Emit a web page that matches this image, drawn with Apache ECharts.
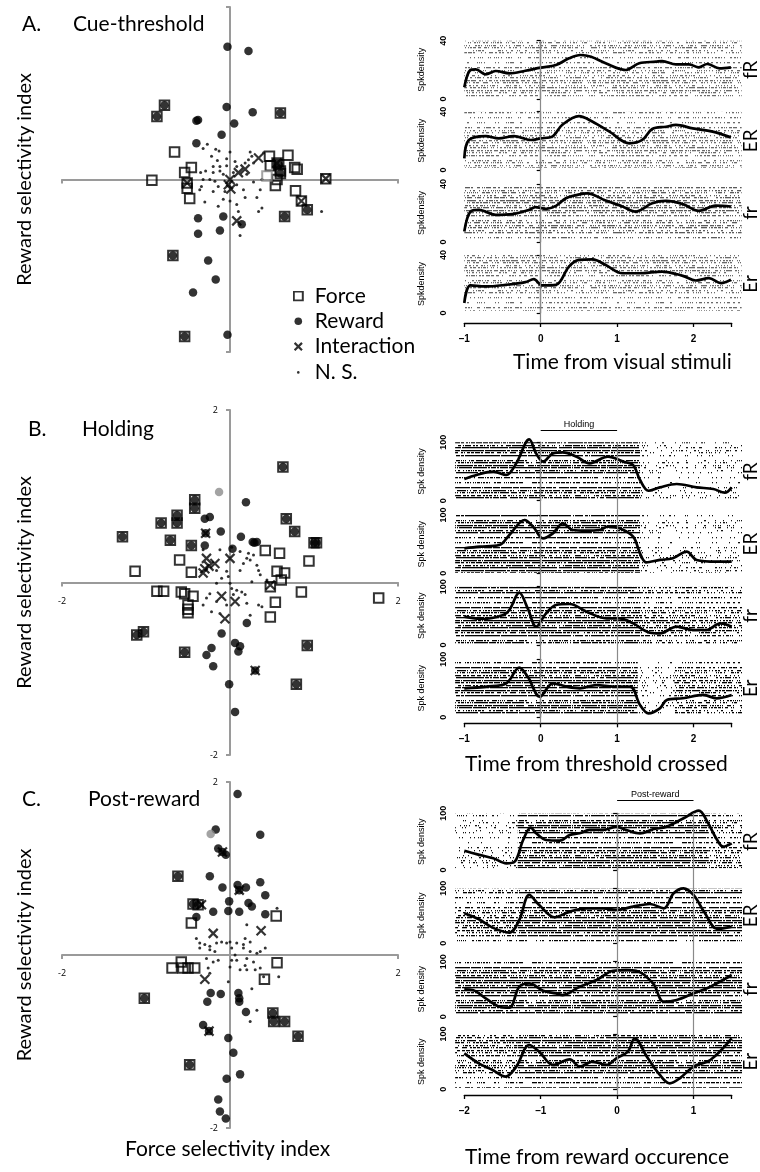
<!DOCTYPE html>
<html><head><meta charset="utf-8">
<script src="https://cdn.jsdelivr.net/npm/echarts@6/dist/echarts.min.js"></script>
<style>html,body{margin:0;padding:0;background:#fff}#c{width:760px;height:1172px}</style>
</head><body><div id="c"></div>
<script>
// ---------------- DATA ----------------
const condLabels = ['fR', 'ER', 'fr', 'Er'];
const legendNames = ['Force', 'Reward', 'Interaction', 'N. S.'];

// Panel A scatter (Cue-threshold)
const forceOnlyA = [[-0.93,-0.01],[-0.66,0.32],[-0.46,0.14],[-0.54,0.08],[-0.51,-0.04],[-0.51,-0.10],[-0.48,-0.22],[0.47,0.27],[0.69,0.28],[0.56,0.19],[0.48,0.16],[0.77,0.14],[0.80,0.12],[0.60,0.10],[0.56,0.00],[0.54,-0.07],[1.14,0.01],[0.78,-0.13],[0.85,-0.25]];
const bothA = [[-0.78,0.86],[-0.87,0.73],[0.60,0.77],[0.65,-0.43],[-0.68,-0.88],[-0.54,-1.82],[0.92,-0.35],[0.58,0.17],[0.60,0.07]];
const rewardOnlyA = [[-0.03,1.54],[0.22,1.49],[-0.04,0.84],[0.27,0.78],[-0.40,0.68],[-0.38,0.69],[0.05,0.65],[-0.10,0.52],[-0.40,0.42],[-0.38,-0.45],[-0.08,-0.43],[-0.38,-0.63],[-0.12,-0.59],[0.14,-0.52],[-0.26,-0.94],[-0.17,-1.16],[-0.44,-1.31],[-0.03,-1.80]];
const interactionA = [[0.34,0.25],[0.18,0.12],[0.10,0.08],[0.00,0.00],[-0.02,-0.06],[0.01,-0.11],[0.08,-0.48],[-0.51,-0.04],[0.56,0.19],[1.14,0.01],[0.85,-0.25]];
const greyForceA = [[0.44,0.04]];
const nsA = [[-0.27,0.41],[-0.32,0.36],[-0.17,0.35],[-0.13,0.33],[0.00,0.32],[-0.22,0.27],[-0.15,0.22],[-0.04,0.24],[0.06,0.21],[0.24,0.32],[0.22,0.23],[0.28,0.19],[-0.20,0.15],[-0.12,0.15],[-0.04,0.16],[0.08,0.15],[0.18,0.19],[-0.29,0.10],[-0.20,0.08],[-0.12,0.10],[-0.08,0.06],[0.04,0.08],[0.20,0.06],[-0.24,0.00],[-0.18,-0.02],[-0.32,0.00],[-0.34,-0.08],[-0.14,-0.08],[0.08,-0.06],[0.28,-0.03],[0.38,0.00],[-0.36,-0.12],[-0.20,-0.14],[-0.06,-0.14],[0.16,-0.12],[0.36,-0.12],[-0.30,-0.26],[-0.08,-0.23],[0.00,-0.25],[0.18,-0.21],[0.32,-0.21],[-0.14,-0.31],[0.08,-0.29],[0.10,-0.37],[0.38,-0.33],[0.34,-0.37],[0.12,-0.65],[1.09,-0.37],[-0.35,0.08],[0.40,0.31],[0.26,0.27]];

// Panel B scatter (Holding)
const forceOnlyB = [[-1.13,0.13],[-0.60,0.26],[-0.46,0.12],[-0.87,-0.10],[-0.79,-0.10],[-0.58,-0.11],[-0.54,-0.13],[-0.44,-0.16],[-0.50,-0.26],[-0.50,-0.31],[-0.50,-0.35],[0.42,0.37],[0.59,0.34],[0.94,0.25],[0.56,0.13],[0.65,0.11],[0.61,0.03],[0.48,-0.05],[0.85,-0.11],[0.54,-0.23],[0.48,-0.40],[1.77,-0.18]];
const bothB = [[0.63,1.34],[-0.42,0.96],[-0.42,0.86],[-0.63,0.78],[-0.63,0.69],[-0.82,0.69],[-1.28,0.53],[-0.71,0.49],[-0.46,0.43],[0.67,0.74],[0.77,0.59],[1.00,0.46],[1.03,0.46],[-1.11,-0.61],[-1.03,-0.57],[-0.54,-0.81],[0.92,-0.73],[0.79,-1.18]];
const rewardOnlyB = [[0.19,0.93],[-0.30,0.74],[-0.24,0.76],[-0.11,0.59],[0.13,0.53],[-0.30,0.43],[0.27,0.47],[0.32,0.47],[0.29,0.46],[0.03,0.39],[0.20,-0.47],[-0.10,-0.59],[0.06,-0.70],[0.12,-0.74],[0.10,-0.80],[-0.22,-0.76],[-0.28,-0.84],[-0.20,-0.97],[-0.01,-1.18],[0.06,-1.50],[-0.29,0.57],[0.30,-1.02]];
const greyRewardB = [[-0.13,1.05]];
const interactionB = [[-0.28,0.28],[-0.18,0.22],[-0.25,0.19],[-0.30,0.16],[-0.32,0.11],[0.00,0.28],[-0.10,-0.16],[0.06,-0.22],[-0.06,-0.42],[0.48,-0.03],[-0.29,0.57],[0.30,-1.02]];
const nsB = [[-0.12,0.38],[0.02,0.41],[-0.16,0.14],[-0.04,0.13],[-0.10,0.05],[-0.02,0.07],[0.12,0.14],[0.16,0.22],[0.20,0.28],[0.24,0.26],[0.32,0.20],[0.34,0.14],[0.36,0.09],[0.26,0.01],[0.44,0.03],[0.02,-0.07],[0.08,-0.09],[0.14,-0.11],[0.18,-0.14],[-0.24,-0.13],[-0.28,-0.18],[-0.32,-0.26],[-0.16,-0.22],[-0.04,-0.26],[0.20,-0.24],[0.34,-0.26],[0.38,-0.28],[-0.22,-0.34],[-0.12,-0.36],[0.24,-0.38],[0.04,-0.14],[0.12,0.36],[0.22,0.34],[-0.32,0.38],[0.00,-0.01],[-0.16,-0.01],[0.28,0.32]];

// Panel C scatter (Post-reward)
const forceOnlyC = [[0.55,0.45],[-0.46,0.37],[0.56,-0.09],[-0.58,-0.08],[-0.69,-0.15],[-0.56,-0.15],[-0.50,-0.15],[-0.42,-0.15],[0.41,-0.28]];
const bothC = [[-0.62,0.91],[-0.44,0.59],[-0.38,0.58],[-1.02,-0.50],[0.51,-0.67],[0.52,-0.77],[0.65,-0.77],[0.81,-0.94],[-0.48,-1.27]];
const rewardOnlyC = [[0.09,1.86],[-0.17,1.45],[0.36,1.39],[-0.14,1.23],[-0.09,1.19],[-0.05,1.16],[-0.24,0.91],[-0.09,0.78],[0.09,0.81],[0.11,0.75],[0.19,0.78],[0.36,0.84],[0.42,0.69],[-0.01,0.62],[0.22,0.60],[0.26,0.56],[-0.20,0.50],[-0.02,0.51],[0.11,0.50],[0.42,0.47],[-0.40,0.44],[-0.23,-0.44],[-0.11,-0.45],[-0.27,-0.54],[0.10,-0.44],[0.11,-0.50],[0.11,-0.54],[0.19,-0.66],[-0.32,-0.81],[-0.25,-0.88],[-0.02,-0.96],[0.04,-1.13],[0.12,-1.38],[-0.04,-1.43],[-0.14,-1.67],[-0.12,-1.81],[-0.05,-1.89]];
const greyRewardC = [[-0.23,1.40]];
const interactionC = [[-0.20,0.25],[0.37,0.28],[-0.30,-0.28],[-0.25,-0.88],[0.11,0.75],[-0.09,1.19],[-0.34,0.58]];
const nsC = [[0.20,0.35],[-0.40,0.19],[-0.36,0.14],[-0.30,0.12],[-0.24,0.10],[-0.16,0.14],[-0.10,0.15],[-0.04,0.14],[0.00,0.15],[0.08,0.14],[0.16,0.12],[0.24,0.15],[0.18,0.19],[-0.36,0.08],[-0.24,0.06],[-0.18,0.04],[0.02,0.08],[0.16,0.08],[0.24,0.04],[0.32,0.02],[0.36,0.04],[0.42,0.08],[0.56,0.54],[-0.28,-0.04],[-0.20,-0.08],[-0.14,-0.06],[0.02,-0.06],[0.08,-0.06],[0.20,-0.04],[0.28,-0.08],[-0.26,-0.15],[0.00,-0.14],[0.12,-0.17],[0.20,-0.17],[0.30,-0.17],[0.36,-0.15],[0.18,-0.12],[0.40,-0.25],[0.58,-0.25],[-0.02,-0.31],[0.26,-0.39],[0.06,0.00],[-0.24,-0.21],[0.32,-0.64],[0.24,-0.77]];

// Spike density curves [time (s), spikes/s]
const spkA_fR = [[-1,8],[-0.92,19.9],[-0.85,20.3],[-0.72,16.9],[-0.59,19.2],[-0.41,17.6],[-0.2,19.4],[0,21.5],[0.2,23.3],[0.37,27.9],[0.52,30.2],[0.66,29],[0.85,24.5],[1.11,19.9],[1.29,24.5],[1.51,25.6],[1.59,26],[1.77,23.8],[1.94,23.8],[2.07,21.7],[2.18,24],[2.34,21],[2.49,21.7]];
const spkA_ER = [[-1,8],[-0.94,20.6],[-0.72,23.3],[-0.55,21.7],[-0.35,23.3],[-0.13,20.6],[0,21.7],[0.15,22.9],[0.28,30.9],[0.5,37],[0.68,33.1],[0.9,26.3],[1.16,18.3],[1.33,20.6],[1.46,28.1],[1.64,29.7],[1.77,30.9],[1.99,28.6],[2.25,26.3],[2.49,22.4]];
const spkA_fr = [[-1,7.3],[-0.92,21],[-0.81,22.2],[-0.59,18.7],[-0.37,19.2],[-0.15,22.2],[-0.07,24],[0.07,22.9],[0.2,24.9],[0.33,30.2],[0.48,32.5],[0.61,33.6],[0.85,28.6],[1.07,24.5],[1.24,21],[1.46,26.7],[1.64,28.3],[1.86,26.1],[2.07,21.5],[2.29,25.1],[2.49,24.5]];
const spkA_Er = [[-1,6.9],[-0.92,19],[-0.72,18.3],[-0.46,19.4],[-0.2,21.3],[-0.09,23.3],[0.02,19],[0.2,19.4],[0.37,32],[0.5,36.6],[0.68,37],[0.85,33.1],[1.07,27.4],[1.29,27.4],[1.59,28.6],[1.86,25.6],[2.03,22.4],[2.2,24],[2.36,20.6],[2.49,22.9]];

const spkB_fR = [[-1,37],[-0.84,44],[-0.62,49.7],[-0.45,44],[-0.32,64],[-0.15,105],[-0.06,81],[0.03,66.9],[0.16,81],[0.29,82.9],[0.47,75.4],[0.64,64],[0.88,75.4],[1.08,66.9],[1.21,61],[1.3,35.4],[1.41,17],[1.56,22.9],[1.78,28.6],[2.04,22.9],[2.26,20],[2.41,13.7],[2.5,22.9]];
const spkB_ER = [[-1,42.9],[-0.8,45.7],[-0.54,48.6],[-0.41,65.7],[-0.21,91.4],[-0.1,80],[0.03,60],[0.16,68.6],[0.29,85.7],[0.42,74.3],[0.59,73.1],[0.77,74.3],[0.88,80],[1.03,77.1],[1.21,62.9],[1.3,34.3],[1.38,18.9],[1.56,22.9],[1.73,25.7],[1.91,37.1],[2.04,22.9],[2.3,20],[2.5,20]];
const spkB_fr = [[-1,48.6],[-0.76,44.6],[-0.49,51.4],[-0.41,60],[-0.28,89.7],[-0.17,62.9],[-0.06,31.4],[0.07,54.3],[0.2,68.6],[0.38,70.3],[0.6,57.1],[0.86,45.7],[1.03,45.7],[1.21,37.1],[1.43,21.1],[1.56,20],[1.78,31.4],[2.0,25.7],[2.17,25.7],[2.35,37.1],[2.5,31.4]];
const spkB_Er = [[-1,50],[-0.71,52.9],[-0.45,58.6],[-0.28,85.6],[-0.17,70.1],[-0.01,35.6],[0.16,58.6],[0.34,52.9],[0.51,50],[0.73,55.7],[0.95,52.9],[1.17,52.9],[1.3,21.3],[1.41,6.9],[1.56,15.5],[1.65,29.9],[1.86,32.8],[2.13,38.5],[2.3,32.8],[2.5,38.5]];

const spkC_fR = [[-2,34],[-1.84,28],[-1.62,20.6],[-1.45,11.8],[-1.34,14.7],[-1.23,52.9],[-1.13,74.7],[-1.06,64.7],[-0.93,52.9],[-0.75,51.8],[-0.62,61.8],[-0.49,64.7],[-0.36,70.6],[-0.18,70.6],[-0.01,76.5],[0.12,70.6],[0.3,64.7],[0.47,71.8],[0.65,76.5],[0.87,91.2],[1.07,104.7],[1.18,85.3],[1.31,52.9],[1.39,41.2],[1.5,47]];
const spkC_ER = [[-2,54.5],[-1.81,43.6],[-1.63,28.5],[-1.41,19.4],[-1.28,42.4],[-1.15,87.9],[-1.02,69.7],[-0.82,47.3],[-0.62,57.6],[-0.4,63.6],[-0.18,63.6],[-0.01,60.6],[0.21,66.7],[0.43,71.5],[0.61,63.6],[0.74,90.9],[0.87,100],[1.0,87.9],[1.15,54.5],[1.31,26.1],[1.5,30.3]];
const spkC_fr = [[-2,49.7],[-1.89,48.5],[-1.72,33.3],[-1.54,18.2],[-1.41,16.4],[-1.28,54.5],[-1.15,60.6],[-0.97,47.3],[-0.8,42.4],[-0.71,39.4],[-0.49,54.5],[-0.27,66.7],[-0.05,83.6],[0.12,84.8],[0.25,83.6],[0.47,60.6],[0.61,27.3],[0.78,30.3],[1.0,42.4],[1.22,54.5],[1.5,75.8]];
const spkC_Er = [[-2,65],[-1.81,47],[-1.63,34.9],[-1.46,22.9],[-1.32,41],[-1.15,80.1],[-1.02,68.1],[-0.84,44],[-0.62,54.2],[-0.49,41],[-0.32,50],[-0.14,44],[-0.01,56],[0.14,68.1],[0.23,92.2],[0.39,59],[0.56,25.9],[0.69,10.8],[0.82,19.9],[1.0,41],[1.22,53],[1.5,92.2]];

// Raster texture bands [tStart, tEnd, density]
const rasterBandsA = [[[-1,2.63,'light']],[[-1,2.63,'light']],[[-1,2.63,'lightMid']],[[-1,2.63,'light']]];
const rasterBandsB = [[[-1.12,1.3,'dense'],[1.3,2.64,'sparse']],[[-1.12,1.3,'dense'],[1.3,2.64,'sparse']],[[-1.12,1.3,'dense'],[1.3,2.64,'mid']],[[-1.12,1.27,'dense'],[1.27,1.75,'sparse'],[1.75,2.64,'mid']]];
const rasterBandsC = [[[-2.12,-1.3,'sparse'],[-1.3,1.2,'dense'],[1.2,1.64,'mid']],[[-2.12,-1.3,'mid'],[-1.3,1.64,'dense']],[[-2.12,1.64,'dense']],[[-2.12,-1.3,'mid'],[-1.3,1.64,'dense']]];

const epochB = {text: 'Holding', from: 0, to: 1};
const epochC = {text: 'Post-reward', from: 0, to: 1};
const eventLinesA = [0];
const eventLinesB = [0, 1];
const eventLinesC = [0, 1];

// ---------------- BUILD ----------------
const FONT = 'Lato';
const grid = [], xAxis = [], yAxis = [], series = [], title = [];

function hash(a, b) {
  let h = Math.imul(a, 73856093) ^ Math.imul(b, 19349663);
  h = Math.imul(h ^ (h >>> 13), 1274126177);
  h ^= h >>> 16;
  return (h >>> 0) / 4294967296;
}
// raster-like texture: rows of short tick marks
function makePattern(density, color) {
  const W = 150, H = 60;
  const c = document.createElement('canvas'); c.width = W; c.height = H;
  const g = c.getContext('2d'); g.fillStyle = color;
  for (let y = 0, r = 0; y < H; y += (r % 2 ? 3 : 2), r++) {
    if (hash(r + 11, 3) < 0.07) continue;
    const rowD = Math.min(0.92, density * (0.7 + 0.6 * hash(r + 5, 7)));
    for (let x = 0; x < W; x++) {
      if (hash(x + 1000 * r, y + 17) < rowD) g.fillRect(x, y, 1, 1.3);
    }
  }
  return {image: c, repeat: 'repeat'};
}
const PAT = {
  light: makePattern(0.38, '#6a6a6a'),
  lightMid: makePattern(0.48, '#5a5a5a'),
  sparse: makePattern(0.15, '#111'),
  mid: makePattern(0.45, '#000'),
  dense: makePattern(0.72, '#000')
};

function addTitle(text, left, cy, size) {
  title.push({text, left, top: cy - size / 2 - 1, padding: 0,
    textStyle: {fontFamily: FONT, fontSize: size, fontWeight: 'normal', color: '#000', lineHeight: size}});
}

const XPATH = 'path://M0,0L10,10M10,0L0,10';

function scatterPanel(cfg) {
  const gi = grid.length;
  grid.push({left: 62, width: 336, top: cfg.top, height: cfg.height, containLabel: false, outerBoundsMode: 'none'});
  const xi = xAxis.length, yi = yAxis.length;
  const axisStyle = {color: '#9a9a9a', width: 2};
  const fmt = v => (v === 0 ? '' : String(v));
  xAxis.push({type: 'value', gridIndex: gi, min: -2, max: 2, interval: 2, position: 'bottom', offset: -cfg.height / 2,
    axisLine: {onZero: false, lineStyle: axisStyle}, axisTick: {show: true, length: 4, lineStyle: axisStyle},
    axisLabel: {show: cfg.labels, formatter: fmt, fontSize: 9, color: '#000', margin: 14, fontFamily: 'Open Sans'},
    splitLine: {show: false}});
  yAxis.push({type: 'value', gridIndex: gi, min: -2, max: 2, interval: 2, position: 'left', offset: -168,
    axisLine: {onZero: false, lineStyle: axisStyle}, axisTick: {show: true, length: 4, lineStyle: axisStyle},
    axisLabel: {show: cfg.labels, formatter: fmt, fontSize: 9, color: '#000', margin: 12, fontFamily: 'Open Sans'},
    splitLine: {show: false},
    name: 'Reward selectivity index', nameLocation: 'middle', nameGap: 195, nameRotate: 90, nameMoveOverlap: false,
    nameTextStyle: {fontSize: 20, color: '#000', fontFamily: FONT}});
  const base = {type: 'scatter', xAxisIndex: xi, yAxisIndex: yi, silent: true};
  series.push(Object.assign({}, base, {name: 'N. S.', data: cfg.ns, symbol: 'circle', symbolSize: 3, itemStyle: {color: '#000'}, z: 2}));
  series.push(Object.assign({}, base, {name: 'Reward', data: cfg.rewardOnly.concat(cfg.both), symbol: 'circle', symbolSize: 8.5, itemStyle: {color: '#000'}, z: 3}));
  if (cfg.greyReward) series.push(Object.assign({}, base, {name: 'grey reward', data: cfg.greyReward, symbol: 'circle', symbolSize: 8.5, itemStyle: {color: '#8c8c8c'}, z: 3}));
  series.push(Object.assign({}, base, {name: 'Force', data: cfg.forceOnly.concat(cfg.both), symbol: 'rect', symbolSize: 9.5, itemStyle: {color: 'rgba(0,0,0,0)', borderColor: '#000', borderWidth: 2}, z: 4}));
  if (cfg.greyForce) series.push(Object.assign({}, base, {name: 'grey force', data: cfg.greyForce, symbol: 'rect', symbolSize: 9.5, itemStyle: {color: 'rgba(0,0,0,0)', borderColor: '#8c8c8c', borderWidth: 2}, z: 4}));
  series.push(Object.assign({}, base, {name: 'Interaction', data: cfg.inter, symbol: XPATH, symbolSize: 9, itemStyle: {color: 'rgba(0,0,0,0)', borderColor: '#000', borderWidth: 2.2}, z: 5}));
}

function rasterPanel(cfg) {
  const PX = 76.4;
  const axLeft = 464.3, axRight = axLeft + (cfg.xMax - cfg.xMin) * PX;
  const subLeft = 453.3, subRight = 742;
  const sMin = cfg.xMin - (axLeft - subLeft) / PX, sMax = cfg.xMax + (subRight - axRight) / PX;
  cfg.subs.forEach(([t, b], i) => {
    const gi = grid.length;
    grid.push({left: subLeft, width: subRight - subLeft, top: t, height: b - t, containLabel: false, outerBoundsMode: 'none'});
    const xi = xAxis.length;
    xAxis.push({type: 'value', gridIndex: gi, min: sMin, max: sMax, show: false});
    const yi = yAxis.length;
    yAxis.push({type: 'value', gridIndex: gi, min: 0, max: cfg.yMax, interval: cfg.yMax, position: 'left',
      axisLine: {show: true, lineStyle: {color: '#000', width: 1.2}},
      axisTick: {show: true, length: 4, lineStyle: {color: '#000', width: 1.2}},
      axisLabel: {rotate: 90, fontSize: 9, fontWeight: 'bold', color: '#000', margin: 5, fontFamily: 'Liberation Sans'},
      splitLine: {show: false},
      name: cfg.yName, nameLocation: 'middle', nameGap: 27, nameRotate: 90, nameMoveOverlap: false,
      nameTextStyle: {fontSize: 9, color: '#000', fontFamily: 'Liberation Sans'}});
    yAxis.push({type: 'value', gridIndex: gi, min: 0, max: cfg.yMax, position: 'right',
      axisLine: {show: false}, axisTick: {show: false}, axisLabel: {show: false}, splitLine: {show: false},
      name: condLabels[i], nameLocation: 'middle', nameRotate: 90, nameGap: -1, nameMoveOverlap: false,
      nameTextStyle: {fontSize: 19, color: '#000', fontFamily: FONT}});
    series.push({type: 'line', xAxisIndex: xi, yAxisIndex: yi, data: [], silent: true, z: 1,
      markArea: {silent: true, label: {show: false},
        data: cfg.bands[i].map(([x0, x1, k]) => [
          {coord: [x0, cfg.rasterY[0]], itemStyle: {color: PAT[k], opacity: 1, borderWidth: 0}},
          {coord: [x1, cfg.rasterY[1]]}])}});
    series.push({type: 'line', xAxisIndex: xi, yAxisIndex: yi, data: cfg.curves[i], smooth: 0.35,
      showSymbol: false, symbol: 'none', clip: false, silent: true,
      lineStyle: {color: '#000', width: 2.7}, z: 4});
  });
  // time axis + event lines
  const gi = grid.length;
  grid.push({left: axLeft, width: axRight - axLeft, top: cfg.subs[0][0], bottom: 1172 - cfg.axisY, containLabel: false, outerBoundsMode: 'none'});
  const xi = xAxis.length, yi = yAxis.length;
  xAxis.push({type: 'value', gridIndex: gi, min: cfg.xMin, max: cfg.xMax, interval: 1, position: 'bottom',
    axisLine: {show: true, onZero: false, lineStyle: {color: '#000', width: 1.3}},
    axisTick: {show: true, length: 4, lineStyle: {color: '#000', width: 1.3}},
    axisLabel: {fontSize: 10, fontWeight: 'bold', color: '#000', margin: 11, fontFamily: 'Liberation Sans',
      formatter: v => (Math.abs(v - Math.round(v)) < 1e-6 ? String(Math.round(v)).replace('-', '\u2013') : '')},
    splitLine: {show: false}});
  yAxis.push({type: 'value', gridIndex: gi, min: 0, max: 1, show: false});
  series.push({type: 'line', xAxisIndex: xi, yAxisIndex: yi, data: [], silent: true, z: 2,
    markLine: {silent: true, symbol: ['none', 'none'], label: {show: false},
      lineStyle: {color: '#8a8a8a', width: 1.2, type: 'solid'},
      data: cfg.vlines.map(v => ({xAxis: v}))}});
  if (cfg.epoch) {
    const g2 = grid.length;
    grid.push({left: axLeft, width: axRight - axLeft, top: cfg.epochY - 1, height: 1, containLabel: false, outerBoundsMode: 'none'});
    const x2 = xAxis.length, y2 = yAxis.length;
    xAxis.push({type: 'value', gridIndex: g2, min: cfg.xMin, max: cfg.xMax, show: false});
    yAxis.push({type: 'value', gridIndex: g2, min: 0, max: 1, show: false});
    series.push({type: 'line', xAxisIndex: x2, yAxisIndex: y2, data: [], silent: true, z: 2,
      markLine: {silent: true, symbol: ['none', 'none'],
        lineStyle: {color: '#000', width: 1, type: 'solid'},
        label: {show: true, position: 'middle', formatter: cfg.epoch.text, fontSize: 9, color: '#000', distance: 2, fontFamily: 'Liberation Sans'},
        data: [[{coord: [cfg.epoch.from, 0]}, {coord: [cfg.epoch.to, 0]}]]}});
  }
}

// Scatter panels
scatterPanel({top: 7, height: 345, labels: false, ns: nsA, rewardOnly: rewardOnlyA, both: bothA, forceOnly: forceOnlyA, greyForce: greyForceA, inter: interactionA});
scatterPanel({top: 410, height: 345, labels: true, ns: nsB, rewardOnly: rewardOnlyB, both: bothB, forceOnly: forceOnlyB, greyReward: greyRewardB, inter: interactionB});
scatterPanel({top: 782, height: 346, labels: true, ns: nsC, rewardOnly: rewardOnlyC, both: bothC, forceOnly: forceOnlyC, greyReward: greyRewardC, inter: interactionC});

// Raster panels
rasterPanel({subs: [[40.7, 99], [111.7, 170], [184, 242], [255, 313]], axisY: 323, xMin: -1, xMax: 2.5, yMax: 40,
  yName: 'Spkdensity', rasterY: [1.5, 40.5], bands: rasterBandsA, curves: [spkA_fR, spkA_ER, spkA_fr, spkA_Er], vlines: eventLinesA});
rasterPanel({subs: [[442.3, 500.7], [515, 573.3], [586.7, 645], [659.3, 717.3]], axisY: 723.3, xMin: -1, xMax: 2.5, yMax: 100,
  yName: 'Spk density', rasterY: [1, 102], bands: rasterBandsB, curves: [spkB_fR, spkB_ER, spkB_fr, spkB_Er], vlines: eventLinesB,
  epoch: epochB, epochY: 430.7});
rasterPanel({subs: [[813.3, 870], [888.3, 943.3], [961.7, 1016.7], [1034, 1089.3]], axisY: 1095, xMin: -2, xMax: 1.5, yMax: 100,
  yName: 'Spk density', rasterY: [3, 110], bands: rasterBandsC, curves: [spkC_fR, spkC_ER, spkC_fr, spkC_Er], vlines: eventLinesC,
  epoch: epochC, epochY: 800.7});

// Texts
addTitle('A.', 22, 25, 21);
addTitle('Cue-threshold', 73, 25, 21);
addTitle('B.', 28, 430, 21);
addTitle('Holding', 82, 430, 21);
addTitle('C.', 22, 800, 21);
addTitle('Post-reward', 88, 800, 21);
addTitle('Time from visual stimuli', 513, 363, 21);
addTitle('Time from threshold crossed', 465, 765, 21);
addTitle('Time from reward occurence', 465, 1158, 21);
addTitle('Force selectivity index', 125, 1150, 21);

function svgIcon(inner) {
  return 'image://data:image/svg+xml;charset=utf-8,' + encodeURIComponent(
    "<svg xmlns='http://www.w3.org/2000/svg' width='17' height='11' viewBox='0 0 17 11'>" + inner + '</svg>');
}
const legendIcons = [
  svgIcon("<rect x='1' y='1' width='9' height='9' fill='none' stroke='black' stroke-width='2'/>"),
  svgIcon("<circle cx='5.5' cy='5.5' r='3.8' fill='black'/>"),
  svgIcon("<path d='M1.8,1.8L9.2,9.2M9.2,1.8L1.8,9.2' stroke='black' stroke-width='2.2'/>"),
  svgIcon("<circle cx='5.5' cy='6' r='1.3' fill='black'/>")
];

const option = {
  animation: false,
  backgroundColor: '#fff',
  textStyle: {fontFamily: FONT},
  title,
  legend: {left: 292.8, top: 285, orient: 'vertical', itemWidth: 17, itemHeight: 11, itemGap: 3.3, selectedMode: false,
    padding: 0,
    textStyle: {fontSize: 21, color: '#000', fontFamily: FONT, lineHeight: 22},
    data: legendNames.map((n, i) => ({name: n, icon: legendIcons[i]}))},
  grid, xAxis, yAxis, series
};
const chart = echarts.init(document.getElementById('c'));
chart.setOption(option);
</script></body></html>
